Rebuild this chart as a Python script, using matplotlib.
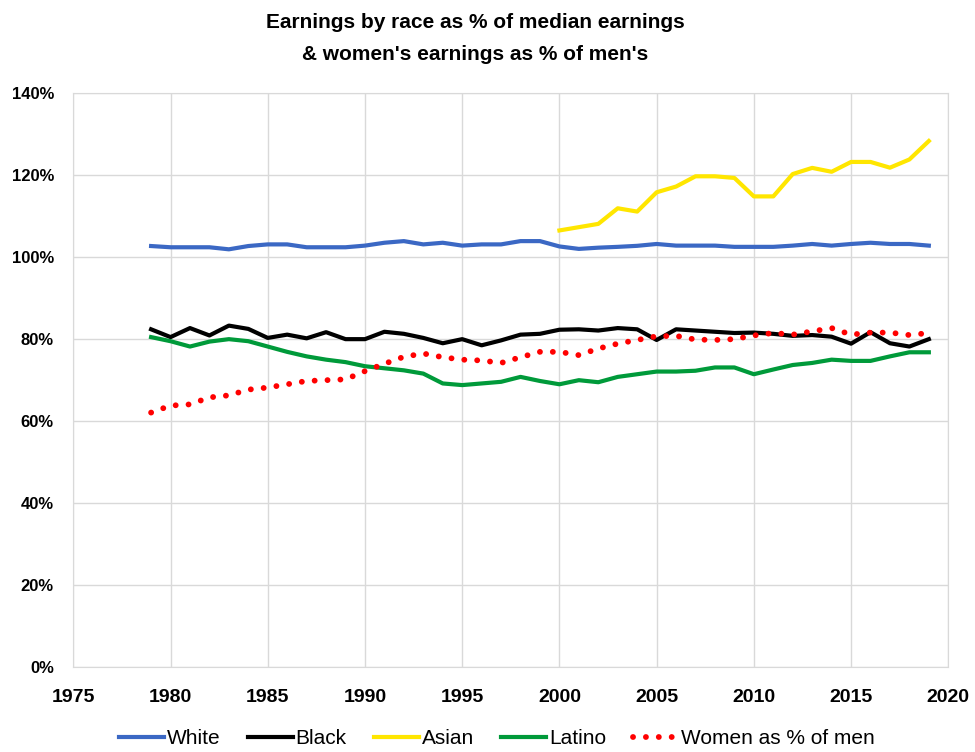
import matplotlib.pyplot as plt
from matplotlib.ticker import PercentFormatter
import numpy as np

years = np.arange(1979, 2020)
asian_years = np.arange(2000, 2020)

white = [102.7, 102.4, 102.4, 102.4, 101.9, 102.7, 103.1, 103.1, 102.4, 102.4,
         102.4, 102.8, 103.5, 103.9, 103.1, 103.5, 102.8, 103.1, 103.1, 103.9,
         103.9, 102.6, 102.0, 102.3, 102.5, 102.75, 103.2, 102.8, 102.8, 102.8,
         102.5, 102.5, 102.5, 102.8, 103.2, 102.8, 103.2, 103.5, 103.2, 103.2, 102.8]
black = [82.4, 80.5, 82.7, 80.9, 83.3, 82.5, 80.3, 81.1, 80.2, 81.7,
         80.0, 80.0, 81.8, 81.3, 80.3, 79.0, 80.0, 78.5, 79.7, 81.1,
         81.3, 82.3, 82.4, 82.1, 82.7, 82.4, 79.8, 82.4, 82.1, 81.8,
         81.5, 81.6, 81.3, 80.8, 81.0, 80.6, 78.9, 81.7, 79.0, 78.2, 80.0]
asian = [106.5, 107.3, 108.1, 111.9, 111.1, 115.8, 117.2, 119.7, 119.7, 119.3,
         114.8, 114.8, 120.25, 121.75, 120.8, 123.2, 123.2, 121.8, 123.8, 128.3]
latino = [80.5, 79.5, 78.2, 79.4, 80.0, 79.5, 78.2, 76.9, 75.8, 75.0,
          74.4, 73.4, 72.9, 72.4, 71.6, 69.2, 68.8, 69.2, 69.6, 70.8,
          69.8, 69.0, 70.0, 69.5, 70.8, 71.45, 72.1, 72.1, 72.3, 73.1,
          73.1, 71.45, 72.6, 73.7, 74.2, 75.0, 74.7, 74.7, 75.8, 76.8, 76.8]
women = [62.1, 63.8, 64.1, 65.8, 66.3, 67.7, 68.2, 69.0, 69.8, 70.0,
         70.2, 72.2, 74.0, 75.7, 76.5, 75.6, 75.0, 74.8, 74.2, 75.6,
         76.9, 76.9, 76.1, 77.7, 78.9, 79.8, 80.7, 80.8, 79.9, 79.8,
         80.0, 80.9, 81.5, 81.1, 81.9, 82.7, 81.1, 81.6, 81.6, 81.0, 81.5]

plt.rcParams['font.family'] = ['Liberation Sans', 'DejaVu Sans']

fig = plt.figure(figsize=(9.75, 7.52), dpi=100)
ax = fig.add_axes([0.0752, 0.1126, 0.8974, 0.7637])

ax.plot(years, white, color='#3B68C4', lw=3.0, label='White')
ax.plot(years, black, color='black', lw=3.0, label='Black')
ax.plot(asian_years, asian, color='#FFE600', lw=3.0, label='Asian')
ax.plot(years, latino, color='#009A3A', lw=3.0, label='Latino')
ax.plot(years, women, color='#FF0000', lw=4.2, linestyle=(0, (0.01, 2.2)),
        dash_capstyle='round', label='Women as % of men')

ax.set_xlim(1975, 2020)
ax.set_ylim(0, 140)
ax.set_xticks(np.arange(1975, 2021, 5))
ax.set_yticks(np.arange(0, 141, 20))
ax.yaxis.set_major_formatter(PercentFormatter(decimals=0))
ax.grid(True, color='#D9D9D9', lw=1)
ax.set_axisbelow(True)
for s in ax.spines.values():
    s.set_color('#D9D9D9')
ax.tick_params(length=0)
ax.tick_params(axis='x', pad=15.5, labelsize=14)
ax.tick_params(axis='y', pad=14, labelsize=12)
for lab in ax.get_xticklabels() + ax.get_yticklabels():
    lab.set_fontweight('bold')

fig.text(475 / 975, 1 - 23 / 752, "Earnings by race as % of median earnings",
         ha='center', va='center', fontsize=15, fontweight='bold')
fig.text(475 / 975, 1 - 55 / 752, "& women's earnings as % of men's",
         ha='center', va='center', fontsize=15, fontweight='bold')

fig.legend(loc='center', bbox_to_anchor=(497 / 975, 1 - 739 / 752), ncol=5, frameon=False,
           fontsize=15, handlelength=2.15, columnspacing=1.3, handletextpad=0.15,
           borderpad=0, borderaxespad=0)

fig.savefig('out.png', dpi=100)
